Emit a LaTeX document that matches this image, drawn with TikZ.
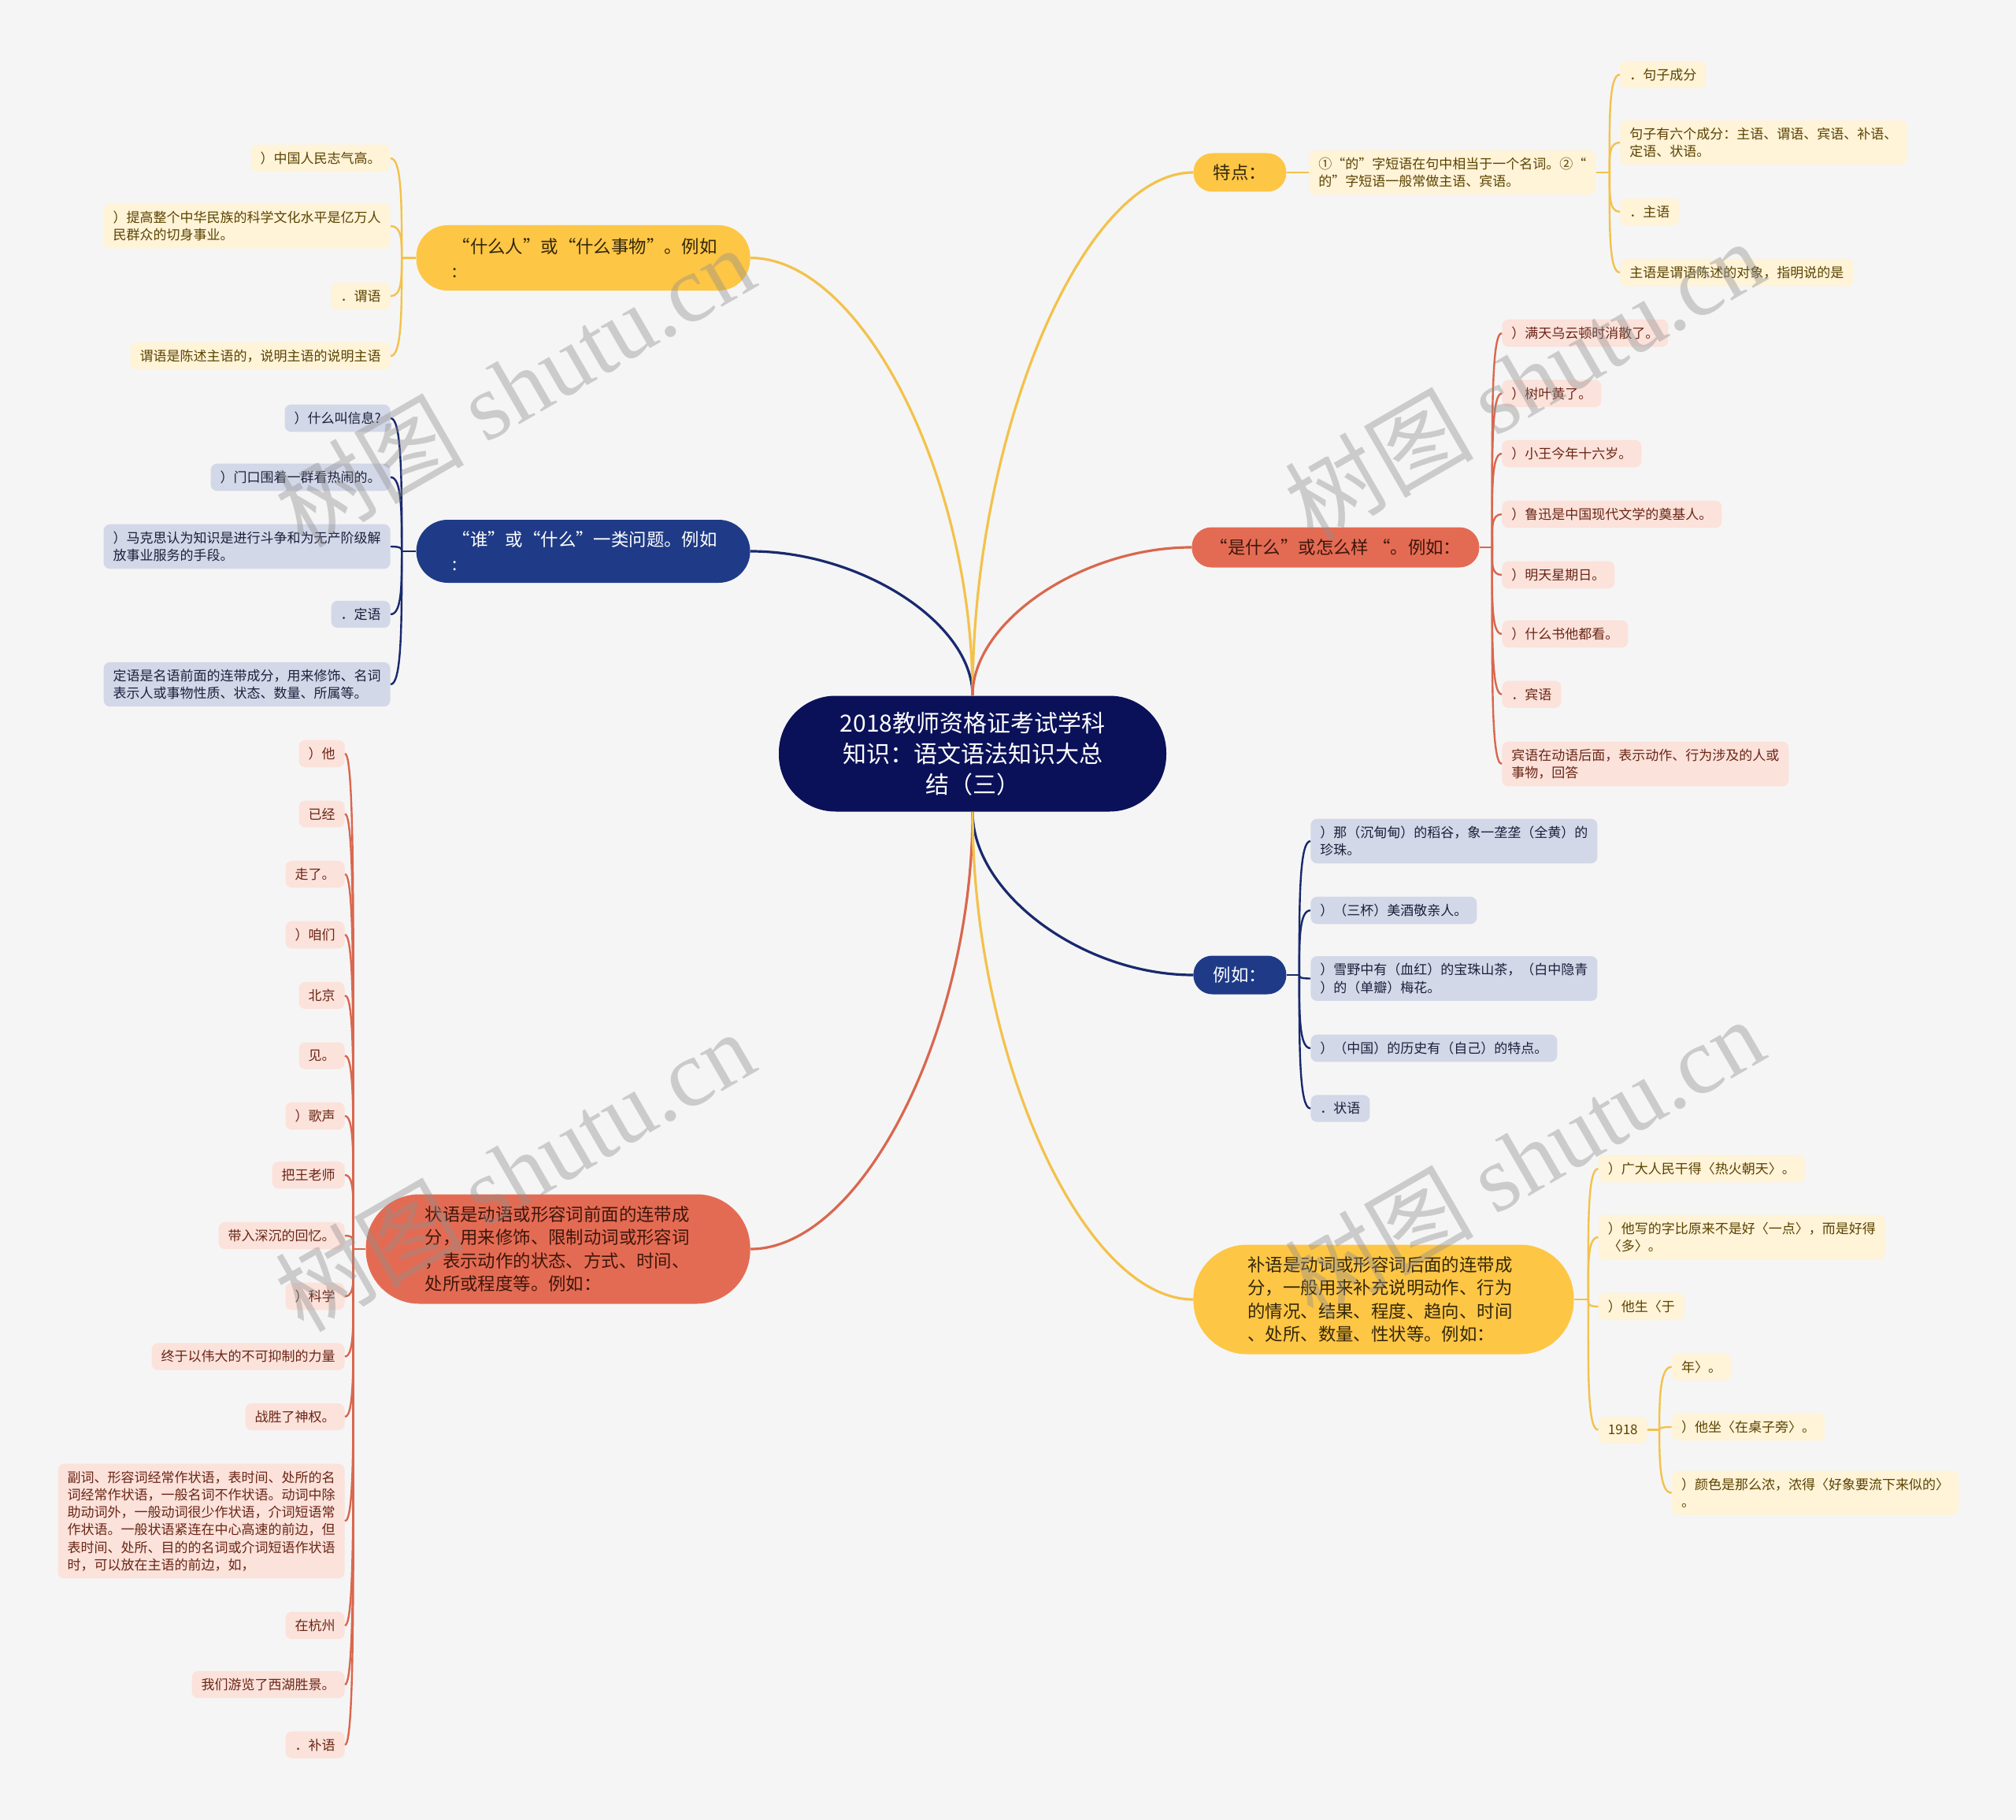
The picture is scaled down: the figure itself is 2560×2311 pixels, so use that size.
\documentclass[tikz,border=0pt]{standalone}
\usepackage{fontspec}
\setmainfont{Noto Sans CJK SC}
\newfontfamily\wmserif{Liberation Serif}
\usetikzlibrary{calc}
\definecolor{bg}{HTML}{F5F5F5}
\definecolor{rootc}{HTML}{0B1158}
\definecolor{navy}{HTML}{1F3B87}
\definecolor{yel}{HTML}{FEC645}
\definecolor{cor}{HTML}{E46B53}
\definecolor{yelleaf}{HTML}{FFF3D8}
\definecolor{navleaf}{HTML}{D3D8E8}
\definecolor{corleaf}{HTML}{FBE2DB}
\definecolor{yeltext}{HTML}{5A4300}
\definecolor{navtext}{HTML}{1B1F3B}
\definecolor{cortext}{HTML}{6A2515}
\definecolor{ymaintext}{HTML}{33270A}
\definecolor{cmaintext}{HTML}{3E160C}
\definecolor{ylinec}{HTML}{F3C24C}
\definecolor{nlinec}{HTML}{18296E}
\definecolor{clinec}{HTML}{D9674E}
\definecolor{wm}{HTML}{8E8E8E}
\tikzset{
  every node/.style={inner sep=0pt},
  leaf/.style={rounded corners=4pt, inner xsep=6pt, inner ysep=4.6pt, minimum height=17pt, font=\fontsize{8.5}{11.1}\selectfont, align=left},
  yleaf/.style={leaf, fill=yelleaf, text=yeltext},
  nleaf/.style={leaf, fill=navleaf, text=navtext},
  cleaf/.style={leaf, fill=corleaf, text=cortext},
  mainb/.style={font=\fontsize{11.2}{15.5}\selectfont, align=left},
  mainpara/.style={font=\fontsize{11.2}{14.7}\selectfont, align=left},
  ymain/.style={line width=1.6pt, draw=ylinec},
  nmain/.style={line width=1.6pt, draw=nlinec},
  cmain/.style={line width=1.6pt, draw=clinec},
  ylink/.style={line width=1.2pt, draw=ylinec},
  nlink/.style={line width=1.2pt, draw=nlinec},
  clink/.style={line width=1.2pt, draw=clinec},
  wmark/.style={rotate=30, text=wm, opacity=0.4, font=\fontsize{60}{60}\selectfont}
}
\begin{document}
\begin{tikzpicture}[x=0.5pt,y=-0.5pt]
\useasboundingbox (0,0) rectangle (2560,2311);
\fill[bg] (0,0) rectangle (2560,2311);

% root
\node[fill=rootc, text=white, rounded corners=36pt, minimum width=246pt, minimum height=73.5pt, font=\fontsize{15}{19.5}\selectfont, align=center] (C) at (1235,957) {2018教师资格证考试学科\\知识：语文语法知识大总\\结（三）};

% main branches
\node[mainb, fill=yel, text=ymaintext, rounded corners=20pt, minimum width=212pt, minimum height=41.5pt, text width=166pt, anchor=east] (B1) at (953,327.5) {“什么人”或“什么事物”。例如\\:};
\node[mainb, fill=navy, text=white, rounded corners=20pt, minimum width=212pt, minimum height=40pt, text width=166pt, anchor=east] (B2) at (953,700) {“谁”或“什么”一类问题。例如\\:};
\node[mainpara, fill=cor, text=cmaintext, rounded corners=34pt, minimum width=244pt, minimum height=69.5pt, text width=169pt, anchor=east] (B3) at (953,1586) {状语是动语或形容词前面的连带成\\分，用来修饰、限制动词或形容词\\，表示动作的状态、方式、时间、\\处所或程度等。例如：};
\node[mainb, fill=yel, text=ymaintext, rounded corners=12pt, minimum width=59pt, minimum height=24.5pt, align=center, anchor=west] (B4) at (1515,219) {特点：};
\node[mainb, fill=cor, text=cmaintext, rounded corners=12.5pt, minimum width=182.5pt, minimum height=25.5pt, align=center, anchor=west] (B5) at (1513,695) {“是什么”或怎么样 “。例如：};
\node[mainb, fill=navy, text=white, rounded corners=12pt, minimum width=59pt, minimum height=24.5pt, align=center, anchor=west] (B6) at (1515,1238) {例如：};
\node[mainpara, fill=yel, text=ymaintext, rounded corners=34pt, minimum width=241.5pt, minimum height=69.5pt, text width=172.5pt, anchor=west] (B7) at (1515,1650) {补语是动词或形容词后面的连带成\\分，一般用来补充说明动作、行为\\的情况、结果、程度、趋向、时间\\、处所、数量、性状等。例如：};

% B1 leaves
\node[yleaf, anchor=east] (a1) at (496,201) {）中国人民志气高。};
\node[yleaf, anchor=east] (a2) at (496,287) {）提高整个中华民族的科学文化水平是亿万人\\民群众的切身事业。};
\node[yleaf, anchor=east] (a3) at (496,376) {．谓语};
\node[yleaf, anchor=east] (a4) at (496,452) {谓语是陈述主语的，说明主语的说明主语};

% B2 leaves
\node[nleaf, anchor=east] (b1) at (496,531) {）什么叫信息?};
\node[nleaf, anchor=east] (b2) at (496,606) {）门口围着一群看热闹的。};
\node[nleaf, anchor=east] (b3) at (496,694) {）马克思认为知识是进行斗争和为无产阶级解\\放事业服务的手段。};
\node[nleaf, anchor=east] (b4) at (496,780) {．定语};
\node[nleaf, anchor=east] (b5) at (496,869) {定语是名语前面的连带成分，用来修饰、名词\\表示人或事物性质、状态、数量、所属等。};

% B3 leaves
\node[cleaf, anchor=east] (c1) at (438,957) {）他};
\node[cleaf, anchor=east] (c2) at (438,1033.5) {已经};
\node[cleaf, anchor=east] (c3) at (438,1110) {走了。};
\node[cleaf, anchor=east] (c4) at (438,1187) {）咱们};
\node[cleaf, anchor=east] (c5) at (438,1264) {北京};
\node[cleaf, anchor=east] (c6) at (438,1340.5) {见。};
\node[cleaf, anchor=east] (c7) at (438,1417) {）歌声};
\node[cleaf, anchor=east] (c8) at (438,1492) {把王老师};
\node[cleaf, anchor=east] (c9) at (438,1569) {带入深沉的回忆。};
\node[cleaf, anchor=east] (c10) at (438,1646) {）科学};
\node[cleaf, anchor=east] (c11) at (438,1722.5) {终于以伟大的不可抑制的力量};
\node[cleaf, anchor=east] (c12) at (438,1799) {战胜了神权。};
\node[cleaf, anchor=east] (c13) at (438,1931.5) {副词、形容词经常作状语，表时间、处所的名\\词经常作状语，一般名词不作状语。动词中除\\助动词外，一般动词很少作状语，介词短语常\\作状语。一般状语紧连在中心高速的前边，但\\表时间、处所、目的的名词或介词短语作状语\\时，可以放在主语的前边，如，};
\node[cleaf, anchor=east] (c14) at (438,2064) {在杭州};
\node[cleaf, anchor=east] (c15) at (438,2139) {我们游览了西湖胜景。};
\node[cleaf, anchor=east] (c16) at (438,2215.6) {．补语};

% B4 child and grandchildren
\node[yleaf, anchor=west] (t1) at (1662,219) {①“的”字短语在句中相当于一个名词。②“\\的”字短语一般常做主语、宾语。};
\node[yleaf, anchor=west] (d1) at (2057,94.7) {．句子成分};
\node[yleaf, anchor=west] (d2) at (2057,181) {句子有六个成分：主语、谓语、宾语、补语、\\定语、状语。};
\node[yleaf, anchor=west] (d3) at (2057,269) {．主语};
\node[yleaf, anchor=west] (d4) at (2057,346) {主语是谓语陈述的对象，指明说的是};

% B5 leaves
\node[cleaf, anchor=west] (e1) at (1907,423) {）满天乌云顿时消散了。};
\node[cleaf, anchor=west] (e2) at (1907,499.6) {）树叶黄了。};
\node[cleaf, anchor=west] (e3) at (1907,576) {）小王今年十六岁。};
\node[cleaf, anchor=west] (e4) at (1907,653) {）鲁迅是中国现代文学的奠基人。};
\node[cleaf, anchor=west] (e5) at (1907,730) {）明天星期日。};
\node[cleaf, anchor=west] (e6) at (1907,805) {）什么书他都看。};
\node[cleaf, anchor=west] (e7) at (1907,881.7) {．宾语};
\node[cleaf, anchor=west] (e8) at (1907,970) {宾语在动语后面，表示动作、行为涉及的人或\\事物，回答};

% B6 leaves
\node[nleaf, anchor=west] (f1) at (1664,1068) {）那（沉甸甸）的稻谷，象一垄垄（全黄）的\\珍珠。};
\node[nleaf, anchor=west] (f2) at (1664,1156) {）（三杯）美酒敬亲人。};
\node[nleaf, anchor=west] (f3) at (1664,1242.5) {）雪野中有（血红）的宝珠山茶，（白中隐青\\）的（单瓣）梅花。};
\node[nleaf, anchor=west] (f4) at (1664,1331) {）（中国）的历史有（自己）的特点。};
\node[nleaf, anchor=west] (f5) at (1664,1407.5) {．状语};

% B7 leaves
\node[yleaf, anchor=west] (g1) at (2029.5,1484) {）广大人民干得〈热火朝天〉。};
\node[yleaf, anchor=west] (g2) at (2029.5,1571) {）他写的字比原来不是好〈一点〉，而是好得\\〈多〉。};
\node[yleaf, anchor=west] (g3) at (2029.5,1659) {）他生〈于};
\node[yleaf, anchor=west] (g4) at (2029.5,1815.6) {1918};
\node[yleaf, anchor=west] (h1) at (2122.6,1735.6) {年〉。};
\node[yleaf, anchor=west] (h2) at (2122.6,1812) {）他坐〈在桌子旁〉。};
\node[yleaf, anchor=west] (h3) at (2122.6,1895.6) {）颜色是那么浓，浓得〈好象要流下来似的〉\\。};

% junctions
\coordinate (J1) at ($(B1.west)+(-18,0)$);
\coordinate (J2) at ($(B2.west)+(-18,0)$);
\coordinate (J3) at ($(B3.west)+(-16,0)$);
\coordinate (J4) at ($(t1.east)+(17,0)$);
\coordinate (J5) at ($(B5.east)+(16,0)$);
\coordinate (J6) at ($(B6.east)+(16,0)$);
\coordinate (J7) at ($(B7.east)+(18,0)$);
\coordinate (J8) at ($(g4.east)+(15,0)$);

% root connectors
\draw[ymain] (C.north) .. controls ($(C.north)!0.5!(C.north |- B1.east)$) and ($(B1.east)!0.5!(C.north |- B1.east)$) .. (B1.east);
\draw[nmain] (C.north) .. controls ($(C.north)!0.5!(C.north |- B2.east)$) and ($(B2.east)!0.5!(C.north |- B2.east)$) .. (B2.east);
\draw[cmain] (C.south) .. controls ($(C.south)!0.5!(C.south |- B3.east)$) and ($(B3.east)!0.5!(C.south |- B3.east)$) .. (B3.east);
\draw[ymain] (C.north) .. controls ($(C.north)!0.5!(C.north |- B4.west)$) and ($(B4.west)!0.5!(C.north |- B4.west)$) .. (B4.west);
\draw[cmain] (C.north) .. controls ($(C.north)!0.5!(C.north |- B5.west)$) and ($(B5.west)!0.5!(C.north |- B5.west)$) .. (B5.west);
\draw[nmain] (C.south) .. controls ($(C.south)!0.5!(C.south |- B6.west)$) and ($(B6.west)!0.5!(C.south |- B6.west)$) .. (B6.west);
\draw[ymain] (C.south) .. controls ($(C.south)!0.5!(C.south |- B7.west)$) and ($(B7.west)!0.5!(C.south |- B7.west)$) .. (B7.west);

% branch stems
\draw[ylink] (B1.west) -- (J1);
\draw[nlink] (B2.west) -- (J2);
\draw[clink] (B3.west) -- (J3);
\draw[ylink] (B4.east) -- (t1.west);
\draw[ylink] (t1.east) -- (J4);
\draw[clink] (B5.east) -- (J5);
\draw[nlink] (B6.east) -- (J6);
\draw[ylink] (B7.east) -- (J7);
\draw[ylink] (g4.east) -- (J8);

% leaf connectors (left side)
\foreach \n in {a1,a2,a3,a4}{\draw[ylink] (J1) .. controls ($(J1)!0.55!(J1 |- \n.east)$) and ($(\n.east)+(14,0)$) .. (\n.east);}
\foreach \n in {b1,b2,b3,b4,b5}{\draw[nlink] (J2) .. controls ($(J2)!0.55!(J2 |- \n.east)$) and ($(\n.east)+(14,0)$) .. (\n.east);}
\foreach \n in {c1,c2,c3,c4,c5,c6,c7,c8,c9,c10,c11,c12,c13,c14,c15,c16}{\draw[clink] (J3) .. controls ($(J3)!0.55!(J3 |- \n.east)$) and ($(\n.east)+(14,0)$) .. (\n.east);}
% leaf connectors (right side)
\foreach \n in {d1,d2,d3,d4}{\draw[ylink] (J4) .. controls ($(J4)!0.55!(J4 |- \n.west)$) and ($(\n.west)+(-14,0)$) .. (\n.west);}
\foreach \n in {e1,e2,e3,e4,e5,e6,e7,e8}{\draw[clink] (J5) .. controls ($(J5)!0.55!(J5 |- \n.west)$) and ($(\n.west)+(-14,0)$) .. (\n.west);}
\foreach \n in {f1,f2,f3,f4,f5}{\draw[nlink] (J6) .. controls ($(J6)!0.55!(J6 |- \n.west)$) and ($(\n.west)+(-14,0)$) .. (\n.west);}
\foreach \n in {g1,g2,g3,g4}{\draw[ylink] (J7) .. controls ($(J7)!0.55!(J7 |- \n.west)$) and ($(\n.west)+(-14,0)$) .. (\n.west);}
\foreach \n in {h1,h2,h3}{\draw[ylink] (J8) .. controls ($(J8)!0.55!(J8 |- \n.west)$) and ($(\n.west)+(-14,0)$) .. (\n.west);}

% watermarks
\node[wmark] (w1) at (653,490) {树图 {\wmserif shutu.cn}};
\node[wmark] (w2) at (1935,482) {树图 {\wmserif shutu.cn}};
\node[wmark] (w3) at (653,1486) {树图 {\wmserif shutu.cn}};
\node[wmark] (w4) at (1935,1470) {树图 {\wmserif shutu.cn}};
\end{tikzpicture}
\end{document}
